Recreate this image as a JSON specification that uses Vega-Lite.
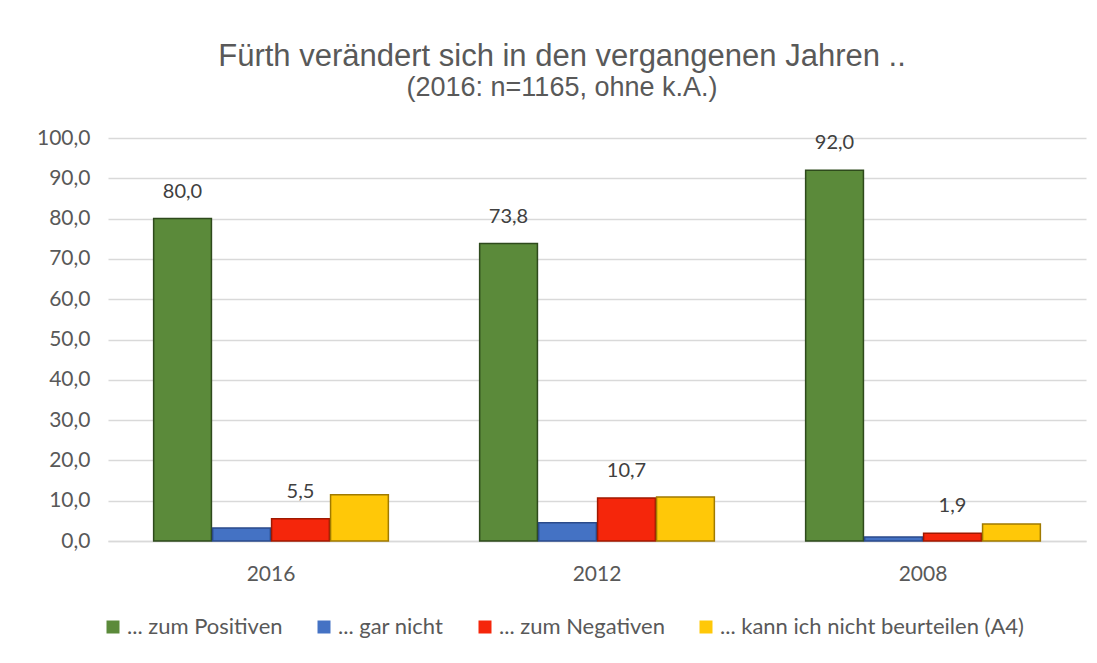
{
  "$schema": "https://vega.github.io/schema/vega-lite/v6.json",
  "autosize": {"type": "none"},
  "width": 978,
  "height": 403,
  "padding": {"left": 108, "top": 138, "right": 11, "bottom": 122},
  "background": "white",
  "config": {
    "locale": {"number": {"decimal": ",", "thousands": ".", "grouping": [3], "currency": ["", " €"]}},
    "font": "Lato",
    "view": {"stroke": null}
  },
  "title": {
    "text": "Fürth verändert sich in den vergangenen Jahren ..",
    "subtitle": "(2016: n=1165, ohne k.A.)",
    "font": "Liberation Sans",
    "subtitleFont": "Liberation Sans",
    "fontSize": 31,
    "subtitleFontSize": 27,
    "fontWeight": "normal",
    "color": "#595959",
    "subtitleColor": "#595959",
    "anchor": "middle",
    "dx": -35,
    "offset": 25,
    "subtitlePadding": 2
  },
  "data": {
    "values": [
      {"jahr": "2016", "serie": "... zum Positiven", "wert": 80.0},
      {"jahr": "2016", "serie": "... gar nicht", "wert": 3.2},
      {"jahr": "2016", "serie": "... zum Negativen", "wert": 5.5},
      {"jahr": "2016", "serie": "... kann ich nicht beurteilen (A4)", "wert": 11.5},
      {"jahr": "2012", "serie": "... zum Positiven", "wert": 73.8},
      {"jahr": "2012", "serie": "... gar nicht", "wert": 4.5},
      {"jahr": "2012", "serie": "... zum Negativen", "wert": 10.7},
      {"jahr": "2012", "serie": "... kann ich nicht beurteilen (A4)", "wert": 10.9},
      {"jahr": "2008", "serie": "... zum Positiven", "wert": 92.0},
      {"jahr": "2008", "serie": "... gar nicht", "wert": 1.0},
      {"jahr": "2008", "serie": "... zum Negativen", "wert": 1.9},
      {"jahr": "2008", "serie": "... kann ich nicht beurteilen (A4)", "wert": 4.2}
    ]
  },
  "encoding": {
    "x": {
      "field": "jahr", "type": "nominal", "sort": ["2016", "2012", "2008"],
      "scale": {"paddingInner": 0.28, "paddingOuter": 0.14},
      "axis": {"title": null, "labelAngle": 0, "ticks": false, "labelFontSize": 21, "labelColor": "#595959", "labelPadding": 22, "domainColor": "#D9D9D9", "domainWidth": 1.5}
    },
    "xOffset": {
      "field": "serie", "type": "nominal",
      "sort": ["... zum Positiven", "... gar nicht", "... zum Negativen", "... kann ich nicht beurteilen (A4)"],
      "scale": {"paddingInner": 0.02}
    },
    "y": {
      "field": "wert", "type": "quantitative",
      "scale": {"domain": [0, 100], "nice": false},
      "axis": {"title": null, "values": [0, 10, 20, 30, 40, 50, 60, 70, 80, 90, 100], "format": ".1f", "domain": false, "ticks": false, "labelFontSize": 21, "labelColor": "#595959", "labelPadding": 18, "gridColor": "#D9D9D9", "gridWidth": 1.5}
    }
  },
  "layer": [
    {
      "mark": {"type": "bar", "strokeWidth": 1.5},
      "encoding": {
        "color": {
          "field": "serie", "type": "nominal",
          "sort": ["... zum Positiven", "... gar nicht", "... zum Negativen", "... kann ich nicht beurteilen (A4)"],
          "scale": {"domain": ["... zum Positiven", "... gar nicht", "... zum Negativen", "... kann ich nicht beurteilen (A4)"], "range": ["#5B8A3A", "#4472C4", "#F5260B", "#FFC808"]},
          "legend": {
            "title": null, "orient": "none", "legendX": -6, "legendY": 478, "direction": "horizontal",
            "symbolType": "square", "symbolSize": 169, "labelFontSize": 22, "labelColor": "#595959",
            "labelLimit": 400, "columnPadding": 30, "labelOffset": 3, "symbolStrokeWidth": 0
          }
        },
        "stroke": {
          "field": "serie", "type": "nominal",
          "scale": {"domain": ["... zum Positiven", "... gar nicht", "... zum Negativen", "... kann ich nicht beurteilen (A4)"], "range": ["#2E4A1C", "#2A4A8A", "#A01800", "#A07A00"]},
          "legend": null
        }
      }
    },
    {
      "transform": [{"filter": "datum.serie === '... zum Positiven' || datum.serie === '... zum Negativen'"}],
      "mark": {"type": "text", "baseline": "bottom", "dy": -17, "fontSize": 20, "color": "#404040"},
      "encoding": {
        "text": {"field": "wert", "type": "quantitative", "format": ".1f"}
      }
    }
  ]
}
